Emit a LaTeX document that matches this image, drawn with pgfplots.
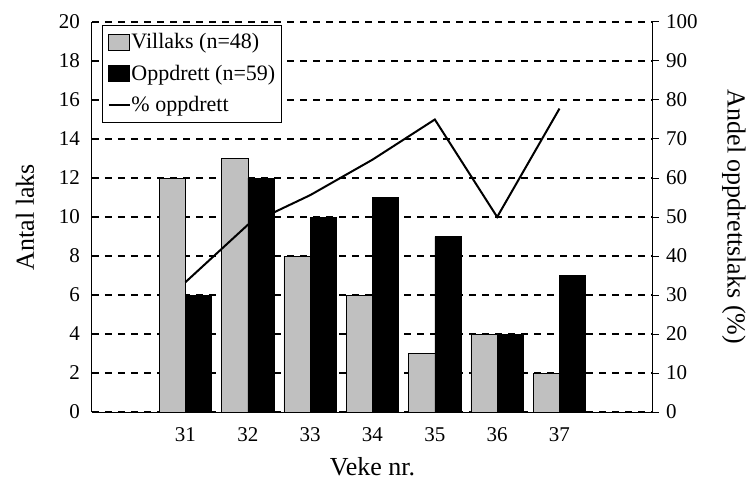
\documentclass[border=0pt]{standalone}
\usepackage{pgfplots}
\pgfplotsset{compat=1.18}
\usepackage{fontspec}
\setmainfont{Liberation Serif}
\definecolor{villaks}{RGB}{192,192,192}
\pgfplotsset{
  sqlegend/.style={legend image code/.code={\draw[##1] (0pt,-7.5pt) rectangle (21pt,8.5pt);}},
  lnlegend/.style={legend image code/.code={\draw[##1] (0pt,0.5pt) -- (21pt,0.5pt);}},
}
\begin{document}
\fontsize{21}{25}\selectfont
\begin{tikzpicture}
\useasboundingbox (-92pt,-68pt) rectangle (658pt,412pt);
\begin{axis}[
  at={(0pt,0pt)}, anchor=south west,
  scale only axis, width=561pt, height=390pt,
  xmin=-0.5, xmax=8.5, ymin=0, ymax=20,
  ytick={0,2,...,20}, xtick={1,...,7}, xticklabels={31,32,33,34,35,36,37},
  axis x line*=bottom, axis y line*=left,
  axis line style={-, line width=1pt},
  major tick length=0pt,
  ymajorgrids, grid style={black, line width=1.3pt, dash pattern=on 7pt off 6pt},
  ybar, bar width=0.42,
  ylabel={Antal laks}, xlabel={Veke nr.},
  tick label style={font=\fontsize{21}{25}\selectfont},
  yticklabel style={anchor=east, inner sep=0pt, xshift=-12pt},
  xticklabel style={anchor=north, inner sep=0pt, yshift=-15pt},
  xlabel style={at={(axis description cs:0.5,0)}, anchor=base, inner sep=0pt, yshift=-63pt, font=\fontsize{26}{30}\selectfont},
  ylabel style={at={(axis description cs:0,0.5)}, anchor=center, inner sep=0pt, yshift=67pt, font=\fontsize{26}{30}\selectfont},
  /pgf/number format/assume math mode=true,
]
\addplot[fill=villaks, draw=black, line width=0.5pt, bar shift=-0.21] coordinates {(1,12)(2,13)(3,8)(4,6)(5,3)(6,4)(7,2)};
\addplot[fill=black, draw=black, line width=0.5pt, bar shift=0.21] coordinates {(1,6)(2,12)(3,10)(4,11)(5,9)(6,4)(7,7)};
\end{axis}
\begin{axis}[
  at={(0pt,0pt)}, anchor=south west,
  scale only axis, width=561pt, height=390pt,
  xmin=-0.5, xmax=8.5, ymin=0, ymax=100,
  axis y line*=right, axis x line=none,
  axis line style={-, line width=1pt},
  ytick={0,10,...,100},
  tick align=outside, major tick length=6pt,
  tick style={black, line width=1pt},
  ylabel={Andel oppdrettslaks (\%)},
  ylabel style={at={(axis description cs:1,0.5)}, anchor=center, inner sep=0pt, rotate=180, yshift=81pt, font=\fontsize{26}{30}\selectfont},
  tick label style={font=\fontsize{21}{25}\selectfont},
  yticklabel style={anchor=west, inner sep=0pt, xshift=7pt},
  /pgf/number format/assume math mode=true,
  legend style={at={(axis description cs:0,1)}, anchor=north west, xshift=10pt, yshift=-3pt,
    draw=black, line width=1pt, fill=white,
    font=\fontsize{22}{26}\selectfont, row sep=11pt, inner xsep=5pt, inner ysep=7pt,
    nodes={inner xsep=1pt, inner ysep=1pt}},
  legend cell align=left,
]
\addlegendimage{fill=villaks, draw=black, line width=0.5pt, sqlegend}
\addlegendentry{Villaks (n=48)}
\addlegendimage{fill=black, draw=black, line width=0.5pt, sqlegend}
\addlegendentry{Oppdrett (n=59)\hspace{26pt}}
\addplot[black, line width=2pt, mark=none, lnlegend] coordinates {(1,33.3)(2,48)(3,55.6)(4,64.7)(5,75)(6,50)(7,77.8)};
\addlegendentry{\% oppdrett}
\end{axis}
\end{tikzpicture}
\end{document}
